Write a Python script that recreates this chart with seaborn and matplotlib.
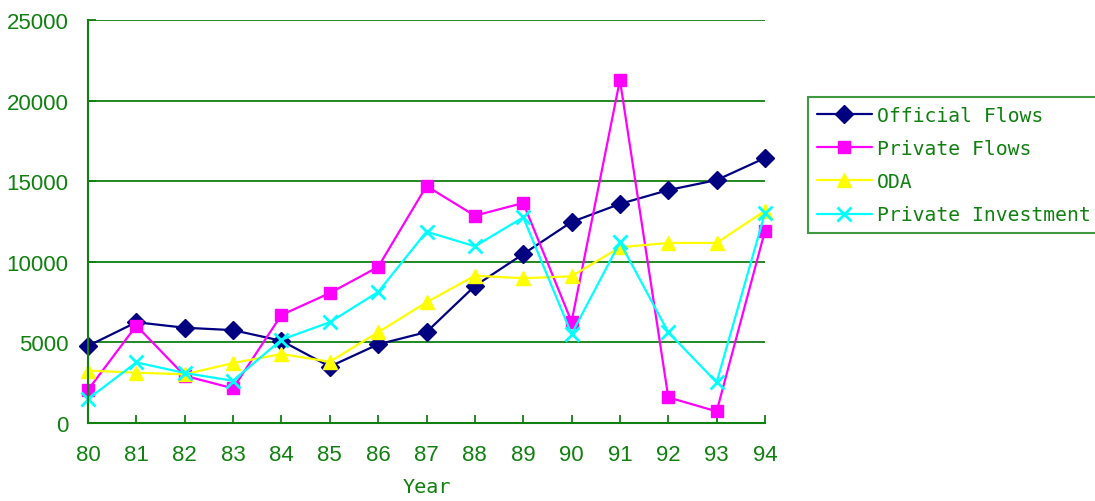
import matplotlib
matplotlib.use("Agg")
import matplotlib.pyplot as plt
import seaborn as sns
import pandas as pd

years = [80, 81, 82, 83, 84, 85, 86, 87, 88, 89, 90, 91, 92, 93, 94]
official_flows = [4780, 6250, 5910, 5760, 5100, 3500, 4880, 5640, 8500, 10480, 12470, 13590, 14450, 15070, 16440]
private_flows = [2050, 6040, 2930, 2150, 6700, 8060, 9680, 14700, 12860, 13650, 6280, 21280, 1590, 720, 11930]
oda = [3250, 3120, 3020, 3720, 4280, 3800, 5630, 7490, 9140, 8980, 9100, 10900, 11170, 11170, 13170]
private_investment = [1490, 3760, 3100, 2620, 5170, 6250, 8130, 11870, 10960, 12760, 5520, 11210, 5630, 2520, 13030]

series_names = ["Official Flows", "Private Flows", "ODA", "Private Investment"]
series_values = [official_flows, private_flows, oda, private_investment]
colors = ["#000080", "#FF00FF", "#FFFF00", "#00FFFF"]
markers = ["D", "s", "^", "x"]
msizes = [9, 8, 10, 10]

df = pd.DataFrame({
    "Year": years * len(series_names),
    "Value": sum(series_values, []),
    "Series": sum([[n] * len(years) for n in series_names], []),
})

sns.set_style("white")
GREEN = "#108010"
mono = ["DejaVu Sans Mono"]

fig = plt.figure(figsize=(10.95, 5.02), dpi=100)
ax = fig.add_axes([88 / 1095, (502 - 424) / 502, 677 / 1095, 403 / 502])

for name, c, m, ms in zip(series_names, colors, markers, msizes):
    sub = df[df["Series"] == name]
    sns.lineplot(data=sub, x="Year", y="Value", ax=ax, color=c, marker=m,
                 markersize=ms, markeredgecolor=c, markerfacecolor=c,
                 markeredgewidth=2 if m == "x" else 1, linewidth=1.6,
                 label=name, clip_on=False)

ax.set_xlim(80, 94)
ax.set_ylim(0, 25000)
ax.set_xticks(years)
ax.set_xticklabels([str(y) for y in years])
ax.set_yticks(range(0, 25001, 5000))
ax.yaxis.grid(True, color=GREEN, linewidth=1.3)
ax.xaxis.grid(False)
ax.set_axisbelow(True)
for s in ["top", "right"]:
    ax.spines[s].set_visible(False)
for s in ["left", "bottom"]:
    ax.spines[s].set_color(GREEN)
    ax.spines[s].set_linewidth(1.5)
ax.tick_params(axis="both", direction="in", colors=GREEN, length=6, width=1.3,
               labelsize=16, labelcolor=GREEN)
ax.tick_params(axis="x", pad=15, bottom=True)
ax.tick_params(axis="y", pad=14, left=True)
for lab in ax.get_xticklabels() + ax.get_yticklabels():
    lab.set_family(["Liberation Sans", "DejaVu Sans"])
ax.set_ylabel("")
ax.set_xlabel("Year", color=GREEN, fontsize=14.5, family=mono, labelpad=9)

leg = ax.legend(loc="upper left", bbox_to_anchor=(808 / 1095, (502 - 98) / 502),
                bbox_transform=fig.transFigure, frameon=True, fancybox=False,
                prop={"family": mono, "size": 14.2}, handlelength=2.8,
                handletextpad=0.25, labelspacing=0.72, borderpad=0.45,
                borderaxespad=0)
leg.get_frame().set_edgecolor(GREEN)
leg.get_frame().set_linewidth(1.5)
for t in leg.get_texts():
    t.set_color(GREEN)

fig.savefig("out.png", dpi=100)
